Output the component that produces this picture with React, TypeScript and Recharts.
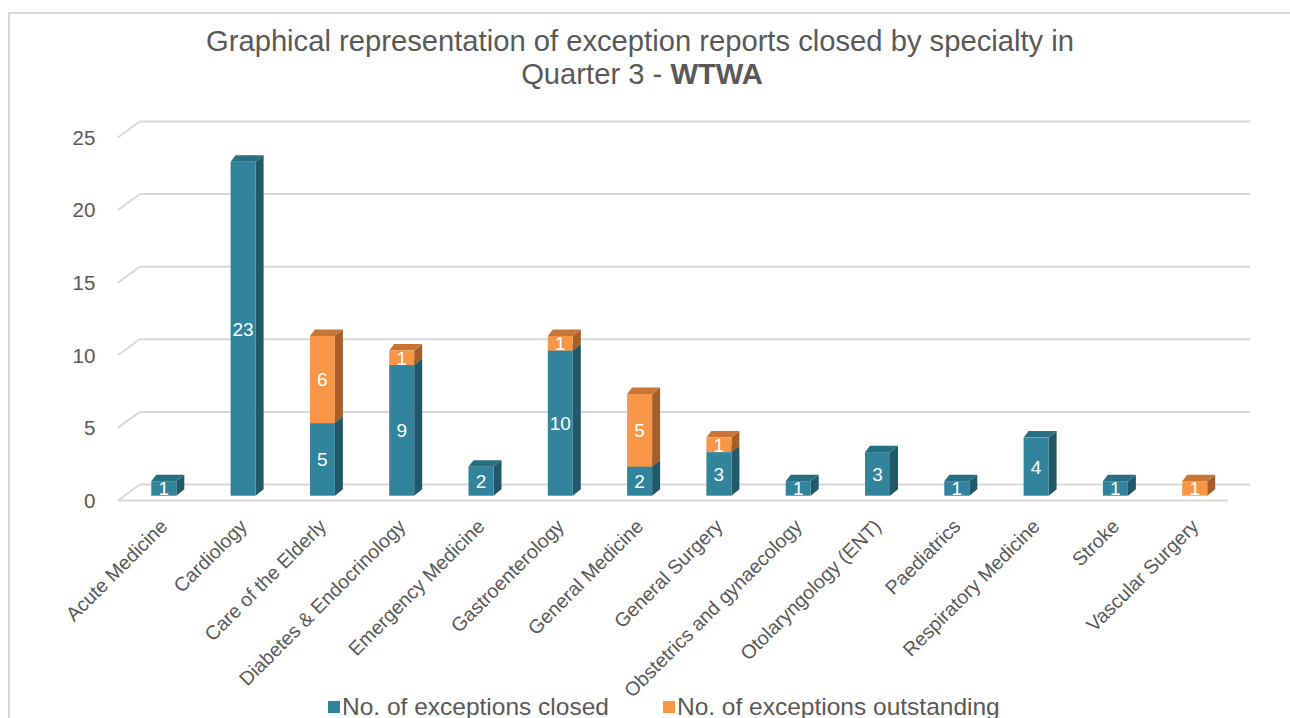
import React from 'react';
import { BarChart, Bar, XAxis, YAxis, CartesianGrid, Legend, LabelList } from 'recharts';

const specialties = [
  'Acute Medicine',
  'Cardiology',
  'Care of the Elderly',
  'Diabetes & Endocrinology',
  'Emergency Medicine',
  'Gastroenterology',
  'General Medicine',
  'General Surgery',
  'Obstetrics and gynaecology',
  'Otolaryngology (ENT)',
  'Paediatrics',
  'Respiratory Medicine',
  'Stroke',
  'Vascular Surgery',
];
const closedCounts = [1, 23, 5, 9, 2, 10, 2, 3, 1, 3, 1, 4, 1, 0];
const outstandingCounts = [0, 0, 6, 1, 0, 1, 5, 1, 0, 0, 0, 0, 0, 1];
const yTicks = [0, 5, 10, 15, 20, 25];

const data = specialties.map((name, i) => ({
  name,
  closed: closedCounts[i],
  outstanding: outstandingCounts[i],
}));

const FONT = '"Liberation Sans", Arial, sans-serif';
const GREY = '#595959';
const GRID = '#d9d9d9';

// bar depth (perspective: left edge recedes less than right edge)
const BAR_DXL = 5;
const BAR_DXR = 8;
const BAR_DY = 6.5;
// wall offsets relative to the plane the bars stand in
const BACK_DX = 15.5;
const BACK_DY = 11.2;
const FRONT_DX = 6.5;
const FRONT_DY = 4.8;

const box = (front: string, side: string, top: string) => (props: any) => {
  const { x, y, width, height } = props;
  if (!height || height <= 0) return <g />;
  const r = x + width;
  const b = y + height;
  return (
    <g>
      <polygon
        points={`${r},${y} ${r + BAR_DXR},${y - BAR_DY} ${r + BAR_DXR},${b - BAR_DY} ${r},${b}`}
        fill={side}
      />
      <polygon
        points={`${x},${y} ${r},${y} ${r + BAR_DXR},${y - BAR_DY} ${x + BAR_DXL},${y - BAR_DY}`}
        fill={top}
      />
      <rect x={x} y={y} width={width} height={height} fill={front} />
    </g>
  );
};

const renderValue = (props: any) => {
  const { x, y, width, height, value } = props;
  if (!value) return null;
  return (
    <text
      x={x + width / 2}
      y={y + height / 2}
      dy="0.36em"
      textAnchor="middle"
      fill="#fff"
      fontSize={19}
      fontFamily={FONT}
    >
      {value}
    </text>
  );
};

const wallLine = (props: any) => {
  const { x1, x2, y1, y, height, index } = props;
  const floor = Math.abs(y1 - (y + height)) < 1;
  const by = y1 - BACK_DY;
  const fy = y1 + FRONT_DY;
  return (
    <g key={`wall-${index}`} stroke={GRID} strokeWidth={2} fill="none">
      <line x1={x1 + BACK_DX} y1={by} x2={x2 + BACK_DX} y2={by} />
      <line x1={x1 - FRONT_DX} y1={fy} x2={x1 + BACK_DX} y2={by} />
      {floor && <line x1={x1 - FRONT_DX} y1={fy} x2={x2 - FRONT_DX} y2={fy} />}
    </g>
  );
};

const YTick = ({ x, y, payload }: any) => (
  <text x={x} y={y + FRONT_DY} dy="0.36em" textAnchor="end" fill={GREY} fontSize={20.5} fontFamily={FONT}>
    {payload.value}
  </text>
);

const XTick = ({ x, y, payload }: any) => {
  const ax = x - 5;
  return (
    <text
      x={ax}
      y={y}
      dy="0.71em"
      textAnchor="end"
      transform={`rotate(-45, ${ax}, ${y})`}
      fill={GREY}
      fontSize={19.6}
      fontFamily={FONT}
    >
      {payload.value}
    </text>
  );
};

const LegendRow = ({ payload }: any) => (
  <div style={{ display: 'flex', paddingLeft: 328, fontFamily: FONT, fontSize: 24.5, lineHeight: '28px', color: GREY }}>
    {(payload || []).map((p: any, i: number) => (
      <div key={i} style={{ display: 'flex', alignItems: 'center', marginRight: 54 }}>
        <span style={{ width: 12, height: 12, background: p.color, marginRight: 2 }} />
        <span>{p.value}</span>
      </div>
    ))}
  </div>
);

export default function App() {
  return (
    <div style={{ position: 'absolute', left: 0, top: 0, width: 1290, height: 718, background: '#fff', overflow: 'hidden' }}>
      <div
        style={{
          position: 'absolute',
          left: 8,
          top: 12,
          width: 1400,
          height: 800,
          borderLeft: `2px solid ${GRID}`,
          borderTop: `2px solid ${GRID}`,
        }}
      />
      <svg style={{ position: 'absolute', left: 0, top: 0 }} width={1290} height={100}>
        <text x={640} y={50.7} textAnchor="middle" fill={GREY} fontSize={29.2} fontFamily={FONT}>
          Graphical representation of exception reports closed by specialty in
        </text>
        <text x={642} y={84} textAnchor="middle" fill={GREY} fontSize={29.2} fontFamily={FONT}>
          Quarter 3 - <tspan fontWeight="bold">WTWA</tspan>
        </text>
      </svg>
      <div style={{ position: 'absolute', left: 0, top: 0 }}>
        <BarChart
          width={1290}
          height={718}
          data={data}
          margin={{ top: 132.7, right: 55.5, left: 24.3, bottom: 122.3 }}
        >
          <CartesianGrid vertical={false} horizontal={wallLine} />
          <XAxis
            dataKey="name"
            interval={0}
            height={100}
            axisLine={false}
            tickLine={false}
            tickSize={0}
            tickMargin={22}
            tick={<XTick />}
          />
          <YAxis
            domain={[0, 25]}
            ticks={yTicks}
            width={100}
            axisLine={false}
            tickLine={false}
            tickSize={0}
            tickMargin={29}
            tick={<YTick />}
          />
          <Legend
            layout="horizontal"
            verticalAlign="middle"
            align="center"
            wrapperStyle={{ top: 692.5, left: 0, width: 1290 }}
            content={<LegendRow />}
          />
          <Bar
            dataKey="closed"
            name="No. of exceptions closed"
            stackId="a"
            barSize={25}
            fill="#31849B"
            shape={box('#31849B', '#215968', '#296E81')}
            isAnimationActive={false}
          >
            <LabelList dataKey="closed" content={renderValue} />
          </Bar>
          <Bar
            dataKey="outstanding"
            name="No. of exceptions outstanding"
            stackId="a"
            barSize={25}
            fill="#F79646"
            shape={box('#F79646', '#A65F2B', '#C77635')}
            isAnimationActive={false}
          >
            <LabelList dataKey="outstanding" content={renderValue} />
          </Bar>
        </BarChart>
      </div>
    </div>
  );
}
